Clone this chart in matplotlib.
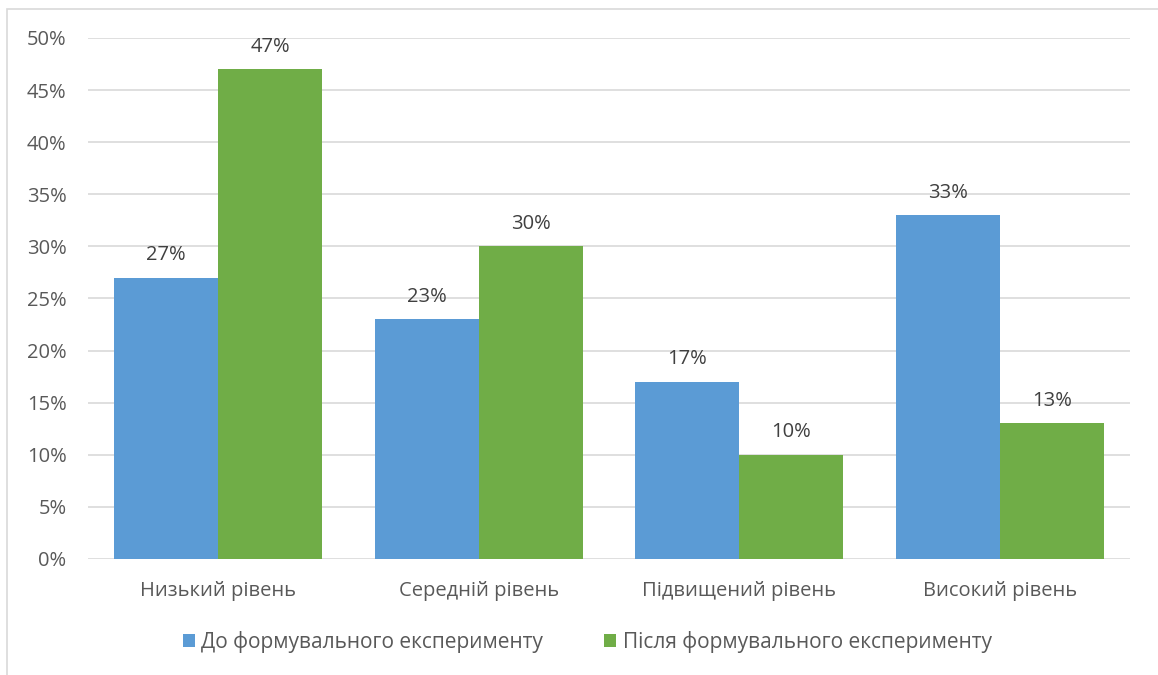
import matplotlib.pyplot as plt
import numpy as np
from matplotlib.patches import Rectangle

plt.rcParams['font.family'] = ['Open Sans', 'DejaVu Sans']

categories = ['Низький рівень', 'Середній рівень', 'Підвищений рівень', 'Високий рівень']
before = [27, 23, 17, 33]
after = [47, 30, 10, 13]
series_names = ['До формувального експерименту', 'Після формувального експерименту']
colors = ['#5B9BD5', '#70AD47']
text_color = '#595959'

fig = plt.figure(figsize=(11.58, 6.75), dpi=100)
ax = fig.add_axes([0.076, 0.172, 0.8998, 0.7718])

# outer chart frame (only top and left edges fall inside the canvas)
fig.patches.append(Rectangle((7 / 1158, -0.1), 1.2, 1 - 9 / 675 + 0.1,
                             transform=fig.transFigure, fill=False,
                             edgecolor='#d9d9d9', linewidth=1.2))

x = np.arange(len(categories))
w = 0.4
b1 = ax.bar(x - w / 2, before, w, color=colors[0], label=series_names[0], zorder=3)
b2 = ax.bar(x + w / 2, after, w, color=colors[1], label=series_names[1], zorder=3)

for bars, vals in ((b1, before), (b2, after)):
    for r, v in zip(bars, vals):
        ax.text(r.get_x() + r.get_width() / 2, v + 1.2, f'{v}%', ha='center', va='bottom',
                fontsize=14.5, color='#404040')

ax.set_xlim(-0.5, len(categories) - 0.5)
ax.set_ylim(0, 50)
ax.set_yticks(np.arange(0, 51, 5))
ax.set_yticklabels([f'{t}%' for t in range(0, 51, 5)])
ax.set_xticks(x)
ax.set_xticklabels(categories)
ax.tick_params(axis='both', length=0, labelsize=14.5, colors=text_color)
ax.tick_params(axis='x', pad=16)
ax.tick_params(axis='y', pad=15.5)
ax.grid(axis='y', color='#d9d9d9', linewidth=1.2, zorder=0)
for s in ax.spines.values():
    s.set_visible(False)

leg = fig.legend(handles=[b1, b2], loc='center', bbox_to_anchor=(0.507, 1 - 642 / 675),
                 ncol=2, frameon=False, fontsize=15, handlelength=0.6, handleheight=0.6,
                 handletextpad=0.3, columnspacing=2.9)
for t in leg.get_texts():
    t.set_color(text_color)

fig.savefig('out.png', dpi=100)
